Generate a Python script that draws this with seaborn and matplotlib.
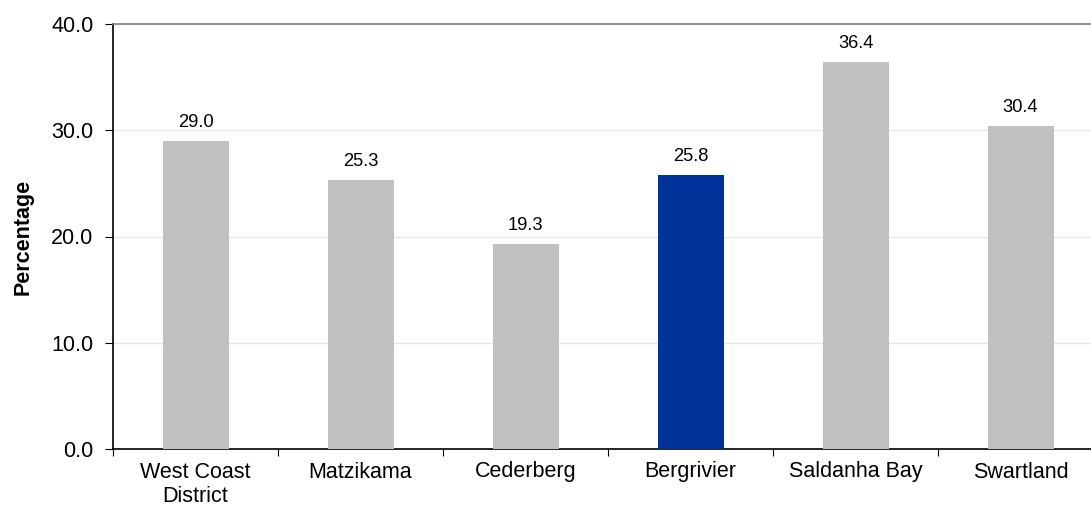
import matplotlib
matplotlib.use("Agg")
import matplotlib.pyplot as plt
import seaborn as sns
import pandas as pd

# chart data
areas = ["West Coast\nDistrict", "Matzikama", "Cederberg", "Bergrivier", "Saldanha Bay", "Swartland"]
values = [29.0, 25.3, 19.3, 25.8, 36.4, 30.4]
highlight = "Bergrivier"

df = pd.DataFrame({"Area": areas, "Value": values})
palette = {a: ("#003399" if a == highlight else "#C0C0C0") for a in areas}

sns.set_style("white")
plt.rcParams["font.family"] = ["Liberation Sans", "DejaVu Sans"]
plt.rcParams["text.color"] = "#000000"
plt.rcParams["axes.labelcolor"] = "#000000"
plt.rcParams["xtick.color"] = "#000000"
plt.rcParams["ytick.color"] = "#000000"

fig = plt.figure(figsize=(10.91, 5.07), dpi=100)
ax = fig.add_axes([113 / 1091, 58 / 507, 978 / 1091, 425 / 507])

sns.barplot(data=df, x="Area", y="Value", hue="Area", palette=palette,
            width=0.4, legend=False, ax=ax, saturation=1, linewidth=0, zorder=3)

# value labels above bars
for i, v in enumerate(values):
    ax.annotate(f"{v:.1f}", (i, v), xytext=(0, 10), textcoords="offset points",
                ha="center", va="baseline", fontsize=13.2, color="#000000")

ax.set_ylim(0, 40)
ax.set_xlim(-0.5, 5.427)
ax.set_yticks([0, 10, 20, 30, 40])
ax.set_yticklabels([f"{t:.1f}" for t in [0, 10, 20, 30, 40]])
ax.yaxis.grid(True, color="#E6E6E6", linewidth=1, zorder=0)
ax.set_axisbelow(True)

# category labels at centres, tick marks at boundaries
ax.set_xticks(range(len(areas)))
ax.set_xticklabels(areas, fontsize=15.5)
ax.tick_params(axis="x", which="major", bottom=True, length=0, pad=9)
ax.set_xticks([i - 0.5 for i in range(len(areas))], minor=True)
ax.tick_params(axis="x", which="minor", bottom=True, length=5, width=0.8, color="#000000")
ax.tick_params(axis="y", left=True, length=6, width=0.8, color="#000000", pad=8, labelsize=15.5)

for s in ["left", "bottom"]:
    ax.spines[s].set_color("#000000")
    ax.spines[s].set_linewidth(1.2)
ax.spines["right"].set_visible(False)
ax.spines["top"].set_color("#808080")
ax.spines["top"].set_linewidth(1.2)

ax.set_xlabel("")
ax.set_ylabel("Percentage", fontsize=15.5, fontweight="bold")
ax.yaxis.set_label_coords(-0.081, 0.5)

fig.savefig("out.png", dpi=100)
